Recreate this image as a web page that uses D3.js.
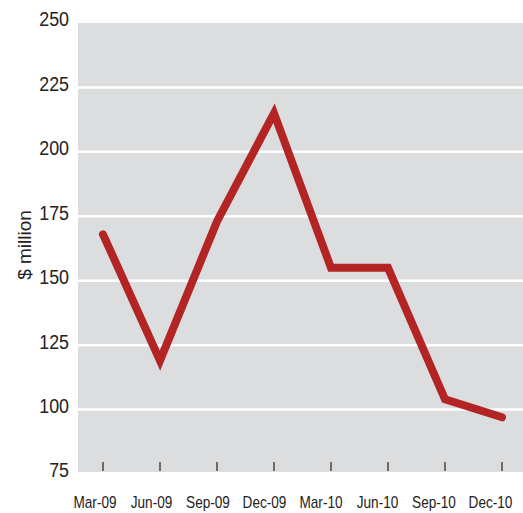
<!DOCTYPE html>
<html>
<head>
<meta charset="utf-8">
<script src="https://cdn.jsdelivr.net/npm/d3@7/dist/d3.min.js"></script>
<style>
  html, body { margin: 0; padding: 0; background: #fff; }
  svg { display: block; }
  text { font-family: "Liberation Sans", Arial, sans-serif; fill: #222; }
</style>
</head>
<body>
<svg id="chart" width="523" height="513"></svg>
<script>
// Quarterly values, $ million
const quarters = ["Mar-09", "Jun-09", "Sep-09", "Dec-09", "Mar-10", "Jun-10", "Sep-10", "Dec-10"];
const values = [168, 119, 173, 215, 155, 155, 104, 97];
const yTicks = [75, 100, 125, 150, 175, 200, 225, 250];
const yTitle = "$ million";

const svg = d3.select("#chart");
const plot = { left: 78, right: 523, top: 23, bottom: 474 };
const condense = 0.85; // horizontal squeeze for the condensed label face

const x = d3.scalePoint().domain(quarters).range([103, 502]);
const y = d3.scaleLinear().domain([75, 250]).range([plot.bottom, plot.top]);

// Plot background
svg.append("rect")
  .attr("x", plot.left).attr("y", plot.top)
  .attr("width", plot.right - plot.left).attr("height", plot.bottom - plot.top - 2)
  .attr("fill", "#dcdddf");

// Horizontal gridlines (interior ticks only)
svg.append("g").selectAll("line")
  .data(yTicks.filter(d => d > 75 && d < 250))
  .join("line")
  .attr("x1", plot.left).attr("x2", plot.right)
  .attr("y1", d => y(d)).attr("y2", d => y(d))
  .attr("stroke", "#fff").attr("stroke-width", 2.5);

// Y axis labels
svg.append("g").selectAll("text")
  .data(yTicks)
  .join("text")
  .attr("transform", d => `translate(69,${y(d) - 4}) scale(${condense},1)`)
  .attr("dy", "0.35em")
  .attr("text-anchor", "end")
  .attr("font-size", 21)
  .text(d => d);

// X tick marks inside the plot bottom
svg.append("g").selectAll("line")
  .data(quarters)
  .join("line")
  .attr("x1", d => x(d)).attr("x2", d => x(d))
  .attr("y1", plot.bottom - 12).attr("y2", plot.bottom - 3)
  .attr("stroke", "#222").attr("stroke-width", 1.2);

// X labels
svg.append("g").selectAll("text")
  .data(quarters)
  .join("text")
  .attr("transform", (d, i) => `translate(${x(d) - 8 - i * 0.5},502) scale(${condense},1)`)
  .attr("dy", "0.35em")
  .attr("text-anchor", "middle")
  .attr("font-size", 16)
  .text(d => d);

// Y title
svg.append("text")
  .attr("transform", "translate(24,245) rotate(-90)")
  .attr("dy", "0.35em")
  .attr("text-anchor", "middle")
  .attr("font-size", 19)
  .text(yTitle);

// Data line
const line = d3.line()
  .x((d, i) => x(quarters[i]))
  .y(d => y(d));

svg.append("path")
  .datum(values)
  .attr("d", line)
  .attr("fill", "none")
  .attr("stroke", "#b32525")
  .attr("stroke-width", 8)
  .attr("stroke-linejoin", "miter")
  .attr("stroke-linecap", "round");
</script>
</body>
</html>
